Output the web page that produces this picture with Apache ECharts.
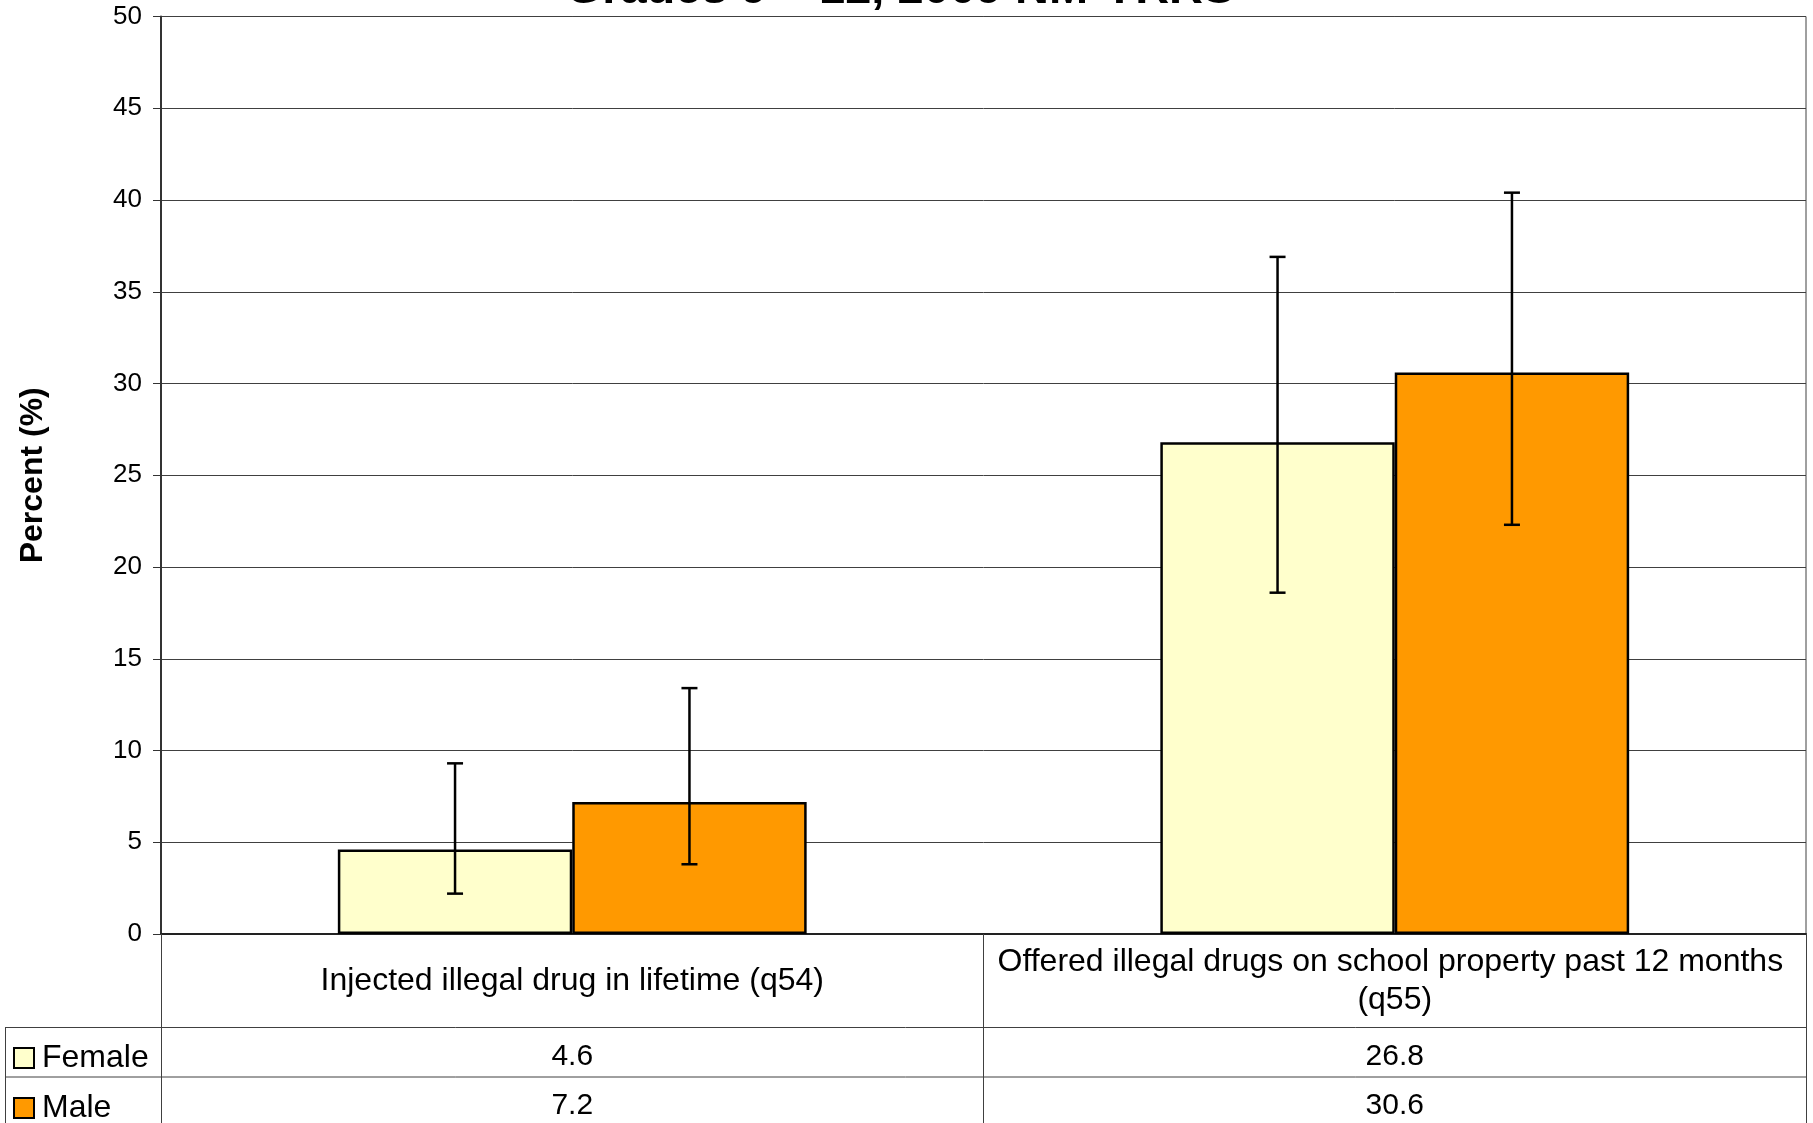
<!DOCTYPE html>
<html>
<head>
<meta charset="utf-8">
<script src="https://cdn.jsdelivr.net/npm/echarts@6/dist/echarts.min.js"></script>
<style>
  html, body { margin: 0; padding: 0; background: #fff; }
  #chart { width: 1813px; height: 1123px; }
</style>
</head>
<body>
<div id="chart"></div>
<script>
// data
const categories = [
    'Injected illegal drug in lifetime (q54)',
    'Offered illegal drugs on school property past 12 months (q55)'
];
const femaleVals = [4.6, 26.8];
const maleVals = [7.2, 30.6];
// 95% confidence limits
const femaleLow = [2.2, 18.6];
const femaleHigh = [9.3, 36.9];
const maleLow = [3.8, 22.3];
const maleHigh = [13.4, 40.4];

const FONT = "'Liberation Sans', Arial, sans-serif";
const CAT_GAP = 0.43;
const LINE = '#404040';

// error bar drawn through the axis scales, shifted onto its own bar
function errorBar(side) {
    return function (params, api) {
        const x = api.value(0);
        const lo = api.coord([x, api.value(1)]);
        const hi = api.coord([x, api.value(2)]);
        const band = api.size([1, 0])[0];
        const off = side * band * (1 - CAT_GAP) / 4;
        const cx = lo[0] + off;
        const cap = 8;
        const style = { stroke: '#000', lineWidth: 2.5 };
        return {
            type: 'group',
            children: [
                { type: 'line', shape: { x1: cx, y1: hi[1], x2: cx, y2: lo[1] }, style },
                { type: 'line', shape: { x1: cx - cap, y1: hi[1], x2: cx + cap, y2: hi[1] }, style },
                { type: 'line', shape: { x1: cx - cap, y1: lo[1], x2: cx + cap, y2: lo[1] }, style }
            ]
        };
    };
}

const chart = echarts.init(document.getElementById('chart'));

const valueAxisRow = (vals, margin) => ({
    type: 'category',
    data: categories,
    position: 'bottom',
    offset: 0,
    axisLine: { show: false },
    axisTick: { show: false },
    splitLine: { show: false },
    axisLabel: {
        interval: 0,
        margin: margin,
        verticalAlign: 'middle',
        fontFamily: FONT,
        fontSize: 30,
        color: '#000',
        formatter: (v, i) => String(vals[i])
    }
});

const legendRow = (name, top) => ({
    data: [name], left: 13, top: top, padding: 0,
    icon: 'rect', itemWidth: 20, itemHeight: 20, selectedMode: false,
    textStyle: { fontFamily: FONT, fontSize: 32, lineHeight: 32, color: '#000', padding: [0, 0, 0, 3] }
});

chart.setOption({
    animation: false,
    textStyle: { fontFamily: FONT },
    grid: {
        left: 161, right: 7, top: 16.5, bottom: 189,
        show: true, borderColor: LINE, borderWidth: 1, backgroundColor: 'transparent'
    },
    legend: [
        legendRow('Female', 1042),
        legendRow('Male', 1092)
    ],
    xAxis: [
        {
            type: 'category',
            data: categories,
            position: 'bottom',
            axisLine: { show: true, lineStyle: { color: '#222', width: 2 } },
            axisTick: { show: true, alignWithLabel: false, interval: 0, length: 189, lineStyle: { color: LINE, width: 1 } },
            axisLabel: {
                interval: 0,
                margin: 47,
                verticalAlign: 'middle',
                width: 815,
                overflow: 'break',
                lineHeight: 38,
                fontFamily: FONT,
                fontSize: 32,
                color: '#000'
            }
        },
        valueAxisRow(femaleVals, 123),
        valueAxisRow(maleVals, 172)
    ],
    yAxis: {
        type: 'value',
        min: 0, max: 50, interval: 5,
        name: 'Percent (%)',
        nameLocation: 'middle',
        nameGap: 112,
        nameTextStyle: { fontFamily: FONT, fontSize: 32, fontWeight: 'bold', color: '#000' },
        axisLine: { show: true, lineStyle: { color: '#333', width: 2 } },
        axisTick: { show: true, length: 8, lineStyle: { color: '#333' } },
        axisLabel: { margin: 19, fontFamily: FONT, fontSize: 26, color: '#000' },
        splitLine: { show: true, lineStyle: { color: LINE, width: 1 } }
    },
    series: [
        {
            name: 'Female', type: 'bar', data: femaleVals,
            barGap: '0%', barCategoryGap: '43%',
            itemStyle: { color: '#FFFFCC', borderColor: '#000', borderWidth: 2.5 }
        },
        {
            name: 'Male', type: 'bar', data: maleVals,
            barGap: '0%', barCategoryGap: '43%',
            itemStyle: { color: '#FF9900', borderColor: '#000', borderWidth: 2.5 }
        },
        {
            type: 'custom', renderItem: errorBar(-1), z: 5,
            encode: { x: 0, y: [1, 2] },
            data: categories.map((c, i) => [i, femaleLow[i], femaleHigh[i]])
        },
        {
            type: 'custom', renderItem: errorBar(1), z: 5,
            encode: { x: 0, y: [1, 2] },
            data: categories.map((c, i) => [i, maleLow[i], maleHigh[i]])
        }
    ],
    graphic: [
        // title, its first line falls outside the picture
        {
            type: 'text', x: 900, y: -10, silent: true,
            style: {
                text: 'Grades 9 \u2013 12, 2009 NM-YRRS',
                font: 'bold 47px ' + FONT, fill: '#000',
                align: 'center', verticalAlign: 'middle'
            }
        },
        // data table rules
        { type: 'line', shape: { x1: 5, y1: 1027.5, x2: 1806, y2: 1027.5 }, style: { stroke: LINE, lineWidth: 1 } },
        { type: 'line', shape: { x1: 5, y1: 1077, x2: 1806, y2: 1077 }, style: { stroke: LINE, lineWidth: 1 } },
        { type: 'line', shape: { x1: 5.5, y1: 1027.5, x2: 5.5, y2: 1123 }, style: { stroke: LINE, lineWidth: 1 } }
    ]
});
</script>
</body>
</html>
